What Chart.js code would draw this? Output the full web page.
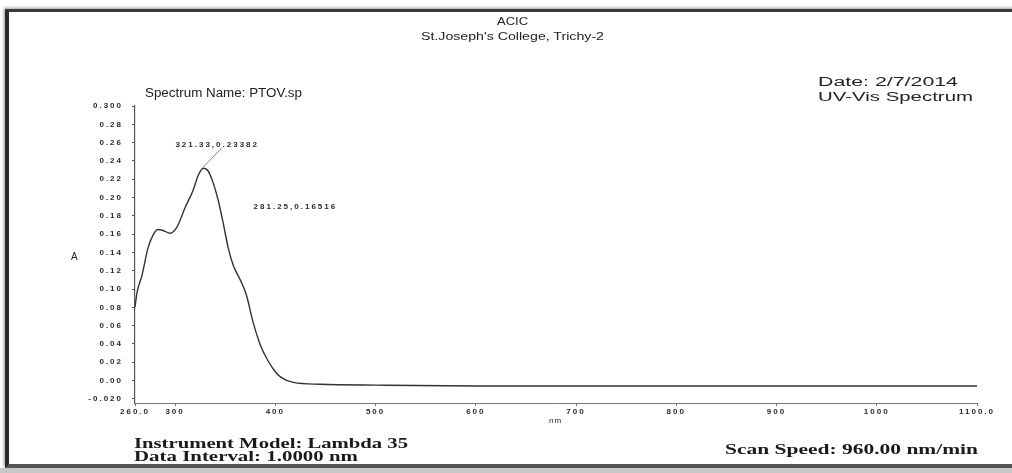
<!DOCTYPE html>
<html>
<head>
    <title>UV-Vis Spectrum PTOV.sp</title>
    <script src="https://cdn.jsdelivr.net/npm/chart.js@4.4.0/dist/chart.umd.min.js"></script>
    <style>
        body {
            margin: 0;
            background-color: #ffffff;
        }
        .page {
            position: relative;
            width: 1012px;
            height: 473px;
            overflow: hidden;
            background-color: #ffffff;
        }
        .frame {
            position: absolute;
            left: 5px;
            top: 9px;
            width: 1030px;
            height: 452px;
            border-top: 3px solid #3a3a3a;
            border-left: 4px solid #2a2a2a;
            border-bottom: 4px solid #555;
            box-shadow: -1px -1px 3px rgba(0,0,0,0.4);
        }
        .bottom-band {
            position: absolute;
            left: 0;
            top: 468px;
            width: 1012px;
            height: 5px;
            background-color: #c8c8c8;
        }
        canvas {
            position: absolute;
            left: 0;
            top: 0;
        }
        .txt {
            position: absolute;
            display: inline-block;
            color: #222;
            white-space: nowrap;
            transform-origin: 0 50%;
            font-family: "Liberation Sans", Arial, sans-serif;
        }
        .head {
            font-size: 11px;
        }
        .sub {
            font-size: 12px;
        }
        .serif {
            font-family: "Liberation Serif", "Times New Roman", serif;
            font-weight: bold;
            font-size: 15px;
            color: #1a1a1a;
        }
    </style>
</head>
<body>
    <div class="page">
        <div class="frame"></div>
        <div class="bottom-band"></div>
        <canvas id="myChart" width="1012" height="473"></canvas>

        <div class="txt head" style="left:497px; top:15px;" data-w="31">ACIC</div>
        <div class="txt head" style="left:421px; top:30px;" data-w="183">St.Joseph's College, Trichy-2</div>
        <div class="txt sub" style="left:145px; top:86px;" data-w="157">Spectrum Name: PTOV.sp</div>
        <div class="txt sub" style="left:818px; top:75px;" data-w="140">Date: 2/7/2014</div>
        <div class="txt sub" style="left:818px; top:90px;" data-w="155">UV-Vis Spectrum</div>
        <div class="txt" style="left:71px; top:251px; font-size:10px;">A</div>
        <div class="txt" style="left:549px; top:416px; font-size:8px; letter-spacing:1px;">nm</div>
        <div class="txt serif" style="left:134px; top:435px;" data-w="274">Instrument Model: Lambda 35</div>
        <div class="txt serif" style="left:134px; top:448px;" data-w="224">Data Interval: 1.0000 nm</div>
        <div class="txt serif" style="left:725px; top:441px;" data-w="253">Scan Speed: 960.00 nm/min</div>
    </div>

    <script>
        // spectrum (wavelength nm, absorbance A)
        const wavelengths = [260, 262, 267, 273, 278, 283, 288, 295, 302, 310, 318, 323, 328, 333, 338, 343,
                             348, 353, 358, 365, 371, 378, 385, 392, 399, 405, 418, 445, 500, 600, 700, 800,
                             900, 1000, 1100];
        const absorbance  = [0.080, 0.096, 0.115, 0.145, 0.159, 0.165, 0.164, 0.161, 0.168, 0.189, 0.208, 0.224,
                             0.232, 0.229, 0.216, 0.197, 0.172, 0.145, 0.126, 0.110, 0.094, 0.063, 0.039, 0.023,
                             0.011, 0.004, -0.002, -0.004, -0.005, -0.006, -0.006, -0.006, -0.006, -0.006, -0.006];

        const xTickValues = [260, 300, 400, 500, 600, 700, 800, 900, 1000, 1100];
        const xTickLabels = ['260.0', '300', '400', '500', '600', '700', '800', '900', '1000', '1100.0'];
        const yTickValues = [0.30, 0.28, 0.26, 0.24, 0.22, 0.20, 0.18, 0.16, 0.14, 0.12, 0.10, 0.08, 0.06,
                             0.04, 0.02, 0.00, -0.02];
        const yTickLabels = ['0.300', '0.28', '0.26', '0.24', '0.22', '0.20', '0.18', '0.16', '0.14', '0.12',
                             '0.10', '0.08', '0.06', '0.04', '0.02', '0.00', '-0.020'];

        // peak pick labels
        const peakLabels = ['321.33,0.23382', '281.25,0.16516'];
        const peakLabelNm = [342, 420];
        const peakLabelA = [0.258, 0.190];
        const peakLeader = [true, false];

        const ink = '#2a2a2a';

        // the scanned printout is stretched sideways, so fit the html text to its measured width
        document.querySelectorAll('.txt[data-w]').forEach(el => {
            const w = el.getBoundingClientRect().width;
            el.style.transform = 'scaleX(' + (parseFloat(el.dataset.w) / w) + ')';
        });

        const spacingPlugin = {
            id: 'spacing',
            beforeLayout(chart) { chart.ctx.letterSpacing = '2px'; },
            beforeDraw(chart) { chart.ctx.letterSpacing = '2px'; }
        };

        const peakPlugin = {
            id: 'peaks',
            afterDatasetsDraw(chart) {
                const ctx = chart.ctx;
                const xs = chart.scales.x, ys = chart.scales.y;
                let top = 0;
                for (let i = 1; i < absorbance.length; i++) if (absorbance[i] > absorbance[top]) top = i;
                ctx.save();
                ctx.letterSpacing = '2px';
                ctx.font = 'bold 8px "Liberation Sans", Arial';
                ctx.fillStyle = ink;
                ctx.textAlign = 'center';
                ctx.textBaseline = 'middle';
                peakLabels.forEach((t, i) => {
                    const px = xs.getPixelForValue(peakLabelNm[i]);
                    const py = ys.getPixelForValue(peakLabelA[i]);
                    ctx.fillText(t, px, py);
                    if (peakLeader[i]) {
                        ctx.strokeStyle = '#666';
                        ctx.lineWidth = 0.8;
                        ctx.beginPath();
                        ctx.moveTo(xs.getPixelForValue(wavelengths[top]), ys.getPixelForValue(absorbance[top]) - 1);
                        ctx.lineTo(px + 5, py + 3);
                        ctx.stroke();
                    }
                });
                ctx.restore();
            }
        };

        const tickFont = { family: '"Liberation Sans", Arial', size: 8, weight: 'bold' };

        const ctx = document.getElementById('myChart').getContext('2d');
        new Chart(ctx, {
            type: 'line',
            data: {
                datasets: [{
                    label: 'PTOV.sp',
                    data: wavelengths.map((w, i) => ({ x: w, y: absorbance[i] })),
                    borderColor: '#333',
                    borderWidth: 1.4,
                    pointRadius: 0,
                    cubicInterpolationMode: 'monotone',
                    fill: false
                }]
            },
            options: {
                responsive: false,
                animation: false,
                layout: { padding: { left: 0, top: 106, right: 35, bottom: 0 } },
                plugins: {
                    legend: { display: false },
                    tooltip: { enabled: false }
                },
                scales: {
                    x: {
                        type: 'linear',
                        min: 260,
                        max: 1100,
                        afterFit(scale) { scale.height = 70; },
                        afterBuildTicks(scale) { scale.ticks = xTickValues.map(v => ({ value: v })); },
                        grid: { drawOnChartArea: false, tickLength: 3, color: '#777' },
                        border: { color: '#777', width: 1 },
                        ticks: {
                            color: ink,
                            font: tickFont,
                            padding: 1,
                            maxRotation: 0,
                            autoSkip: false,
                            callback: (v) => xTickLabels[xTickValues.indexOf(v)]
                        }
                    },
                    y: {
                        min: -0.0245,
                        max: 0.300,
                        afterFit(scale) { scale.width = 135; },
                        afterBuildTicks(scale) { scale.ticks = yTickValues.map(v => ({ value: v })); },
                        grid: { drawOnChartArea: false, tickLength: 3, color: '#555' },
                        border: { color: '#555', width: 1.2 },
                        ticks: {
                            color: ink,
                            font: tickFont,
                            padding: 9,
                            autoSkip: false,
                            callback: (v) => {
                                const k = yTickValues.findIndex(t => Math.abs(t - v) < 1e-9);
                                return k >= 0 ? yTickLabels[k] : '';
                            }
                        }
                    }
                }
            },
            plugins: [spacingPlugin, peakPlugin]
        });
    </script>
</body>
</html>
